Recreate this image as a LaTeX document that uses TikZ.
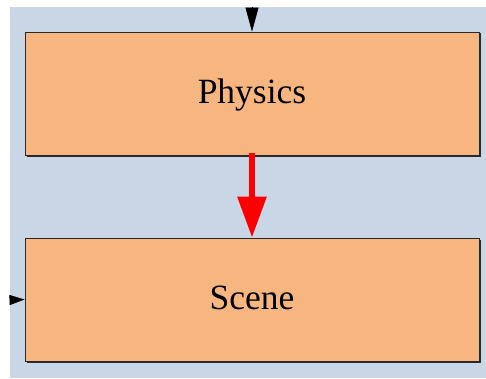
\documentclass[tikz,border=0pt]{standalone}
\usepackage{fontspec}
\setmainfont{Liberation Serif}
\usetikzlibrary{arrows.meta,shadows}
\definecolor{bgblue}{RGB}{200,214,229}
\definecolor{boxorange}{RGB}{247,182,128}
\definecolor{edgegray}{RGB}{40,40,40}
\begin{document}
\begin{tikzpicture}[x=1pt,y=1pt,
  block/.style={draw=edgegray, line width=0.9pt, fill=boxorange, minimum width=454pt, minimum height=123pt, inner sep=0pt, font=\fontsize{35.5}{40}\selectfont,
    text height=20pt, text depth=0pt,
    drop shadow={shadow xshift=1.5pt, shadow yshift=-1.5pt, opacity=0.8, fill=black}},
  blackarrow/.style={-{Triangle[length=24pt,width=13pt]}, draw=black, line width=0.5pt},
  redarrow/.style={-{Triangle[length=41pt,width=28pt]}, draw=red, fill=red, line width=6pt}
]
\useasboundingbox (0,0) rectangle (486,378);
\fill[bgblue] (10,0) rectangle (486,371);
\node[block] (physics) at (252,284.5) {Physics};
\node[block] (scene) at (252,78.5) {Scene};
\coordinate (topin) at (252,371);
\coordinate (leftin) at (10,78);
\draw[blackarrow] (topin) -- (physics.north);
\draw[-{Triangle[length=15pt,width=10pt]}, draw=black, line width=0.5pt] (leftin) -- (scene.west);
\draw[redarrow] ([yshift=2pt]physics.south) -- (scene.north);
\end{tikzpicture}
\end{document}
